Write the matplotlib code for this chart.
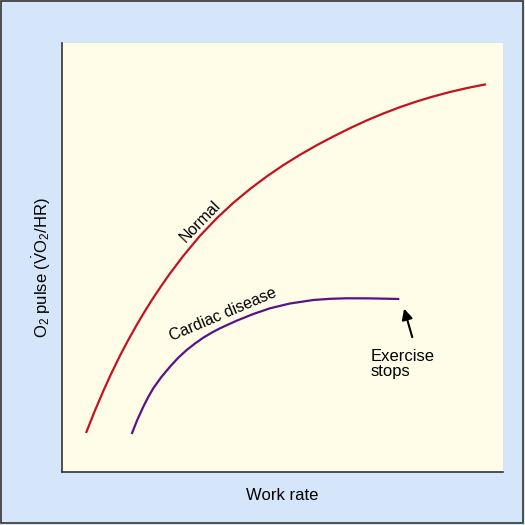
import numpy as np
import matplotlib
matplotlib.use('Agg')
import matplotlib.pyplot as plt
from matplotlib.patches import Rectangle

plt.rcParams['font.family'] = ['Liberation Sans', 'DejaVu Sans']
plt.rcParams['mathtext.fontset'] = 'custom'
plt.rcParams['mathtext.rm'] = 'Liberation Sans'
plt.rcParams['mathtext.it'] = 'Liberation Sans:italic'

# curves (work rate vs O2 pulse, arbitrary 0-100 units)
normal_x = [5.44, 7.48, 9.30, 11.11, 13.15, 14.97, 17.01, 18.82, 20.41, 22.45,
            24.49, 27.44, 31.29, 35.15, 38.78, 42.63, 46.49, 50.11, 53.97, 57.82,
            61.45, 65.31, 69.16, 72.79, 76.64, 80.50, 84.13, 87.98, 91.84, 96.15]
normal_y = [9.09, 14.34, 18.72, 22.82, 27.12, 30.66, 34.40, 37.53, 40.14, 43.29,
            46.27, 50.30, 55.06, 59.21, 62.68, 65.97, 68.94, 71.48, 73.94, 76.20,
            78.17, 80.15, 81.98, 83.54, 85.05, 86.40, 87.52, 88.58, 89.50, 90.38]

cardiac_x = [15.80, 17.01, 18.44, 19.50, 20.70, 22.45, 24.49, 26.30, 28.28, 30.16, 32.04,
             34.01, 35.83, 39.61, 43.38, 47.17, 51.70, 56.98, 60.77, 64.56, 69.84, 76.49]
cardiac_y = [8.86, 12.00, 15.22, 17.37, 19.51, 22.03, 24.55, 26.57, 28.44, 29.95, 31.31,
             32.52, 33.50, 35.27, 36.83, 38.16, 39.28, 40.09, 40.37, 40.49, 40.47, 40.33]

stop_head = (77.4, 38.7)
stop_tail = (79.6, 30.8)

BG = '#d6e6fa'
PANEL = '#fffde8'
RED = '#c4121f'
PURPLE = '#5a1285'

fig = plt.figure(figsize=(5.25, 5.25), dpi=100, facecolor=BG)
ax = fig.add_axes([62/525, 53/525, 441/525, 429/525])
ax.set_facecolor(PANEL)

ax.plot(normal_x, normal_y, color=RED, lw=1.6, solid_capstyle='butt', solid_joinstyle='round')
ax.plot(cardiac_x, cardiac_y, color=PURPLE, lw=1.6, solid_capstyle='butt', solid_joinstyle='round')

ax.set_xlim(0, 100)
ax.set_ylim(0, 100)
ax.set_xticks([])
ax.set_yticks([])
for s in ['top', 'right']:
    ax.spines[s].set_visible(False)
for s in ['left', 'bottom']:
    ax.spines[s].set_color('#333333')
    ax.spines[s].set_linewidth(1.2)

ax.text(31.3, 58.5, 'Normal', rotation=46, ha='center', va='center', fontsize=11.5)
ax.text(36.5, 36.7, 'Cardiac disease', rotation=23, ha='center', va='center', fontsize=11.5)

ax.annotate('', xy=stop_head, xytext=stop_tail,
            arrowprops=dict(arrowstyle='-|>', color='black', lw=1.5, mutation_scale=16))
ax.text(70.0, 28.6, 'Exercise\nstops', ha='left', va='top', fontsize=12, linespacing=0.95)

fig.text(282/525, 1 - 496/525, 'Work rate', ha='center', va='center', fontsize=12)
fig.text(42/525, 1 - 268/525, r'O$_2$ pulse ($\dot{\mathrm{V}}$O$_2$/HR)', rotation=90,
         ha='center', va='center', fontsize=12)

fig.patches.append(Rectangle((1/525, 2/525), 522/525, 522/525, transform=fig.transFigure,
                             fill=False, edgecolor='#333333', lw=1.2))

fig.savefig('out.png', dpi=100, facecolor=BG)
